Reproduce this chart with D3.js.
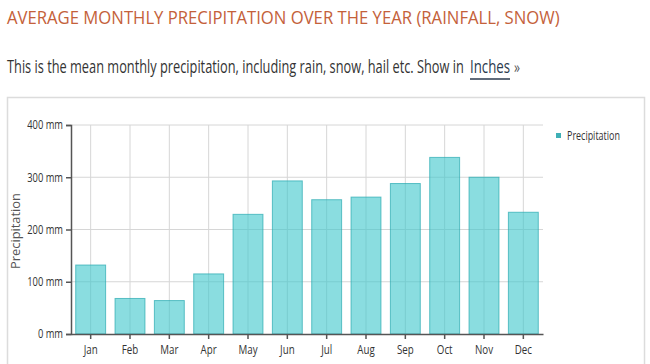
<!DOCTYPE html>
<html><head><meta charset="utf-8">
<script src="https://cdn.jsdelivr.net/npm/d3@7"></script>
<style>
html,body{margin:0;padding:0;background:#fff;}
text{font-family:"Open Sans",sans-serif;}
</style></head>
<body><svg id="c" width="650" height="364"></svg>
<script>
const months = ["Jan","Feb","Mar","Apr","May","Jun","Jul","Aug","Sep","Oct","Nov","Dec"];
const precipitation = [132,68,64,115,229,293,257,262,288,338,300,233];
const yTicks = [0,100,200,300,400];
const seriesName = "Precipitation";
const titleText = "AVERAGE MONTHLY PRECIPITATION OVER THE YEAR (RAINFALL, SNOW)";

const svg = d3.select("#c");
const m = {left:71, right:543, top:125, bottom:334};

// place text at (x,y) with left edge, horizontally scaled to width w
function fitText(x0, y0, w, size, fill, str, anchor){
  const t = svg.append("text").attr("font-size",size).attr("fill",fill).text(str)
    .attr("text-anchor", anchor||"start");
  const nat = t.node().getComputedTextLength();
  const s = w/nat;
  t.attr("transform",`translate(${x0},${y0}) scale(${s},1)`);
  return t;
}

// title
fitText(7, 24, 553, 18.5, "#c4613a", titleText);

// subtitle
fitText(7, 73, 457, 19, "#333", "This is the mean monthly precipitation, including rain, snow, hail etc. Show in");
fitText(470, 73, 40, 19, "#2b3a4e", "Inches");
fitText(514, 73, 6, 16, "#555", "»");
svg.append("line").attr("x1",470).attr("x2",510).attr("y1",79).attr("y2",79)
  .attr("stroke","#2b3a4e").attr("stroke-width",1.5);

// frame
svg.append("rect").attr("x",7.5).attr("y",97.5).attr("width",637).attr("height",280)
  .attr("fill","none").attr("stroke","#dcdcdc").attr("stroke-width",1.5);

const x = d3.scaleBand().domain(months).range([m.left,m.right]).paddingInner(0.24).paddingOuter(0.12);
const y = d3.scaleLinear().domain([0,400]).range([m.bottom,m.top]);

// gridlines
const g = svg.append("g");
g.selectAll(".hg").data(yTicks.filter(d=>d>0)).join("line")
  .attr("x1",m.left).attr("x2",m.right).attr("y1",d=>y(d)).attr("y2",d=>y(d))
  .attr("stroke","#d6d6d6").attr("stroke-width",1);
g.selectAll(".vg").data(months).join("line")
  .attr("x1",d=>x(d)+x.bandwidth()/2).attr("x2",d=>x(d)+x.bandwidth()/2)
  .attr("y1",m.top).attr("y2",m.bottom)
  .attr("stroke","#d6d6d6").attr("stroke-width",1);

// bars
svg.append("g").selectAll("rect").data(precipitation).join("rect")
  .attr("x",(d,i)=>x(months[i])).attr("width",x.bandwidth())
  .attr("y",d=>y(d)).attr("height",d=>m.bottom-y(d))
  .attr("fill","rgba(60,198,204,0.6)").attr("stroke","rgba(40,170,176,0.7)").attr("stroke-width",1);

// axes
const sx = 0.78;
const ya = svg.append("g").attr("transform",`translate(${m.left},0)`)
  .call(d3.axisLeft(y).tickValues(yTicks).tickSize(5).tickPadding(3).tickFormat(d=>d+" mm"));
ya.select(".domain").attr("stroke","#555").attr("stroke-width",1.5);
ya.selectAll(".tick line").attr("stroke","#555").attr("stroke-width",1.5);
ya.selectAll(".tick text").attr("font-size",12).attr("fill","#333").attr("font-family","Open Sans")
  .attr("x",-8/sx).attr("transform",`scale(${sx},1)`);

const xa = svg.append("g").attr("transform",`translate(0,${m.bottom})`)
  .call(d3.axisBottom(x).tickSize(5).tickPadding(6).tickSizeOuter(0));
xa.select(".domain").attr("stroke","#555").attr("stroke-width",1.5);
xa.selectAll(".tick line").attr("stroke","#555").attr("stroke-width",1.5);
xa.selectAll(".tick text").attr("font-size",12.5).attr("fill","#333").attr("font-family","Open Sans")
  .attr("transform",`scale(${sx},1)`);

// y axis title
svg.append("text").attr("transform","translate(20,231) rotate(-90)").attr("text-anchor","middle")
  .attr("font-size",12.5).attr("fill","#555").attr("textLength",76).attr("lengthAdjust","spacingAndGlyphs")
  .text(seriesName);

// legend
svg.append("rect").attr("x",556).attr("y",133).attr("width",5).attr("height",5).attr("fill","#3fb0b6");
fitText(567, 139.5, 53, 12, "#333", seriesName);
</script></body></html>
